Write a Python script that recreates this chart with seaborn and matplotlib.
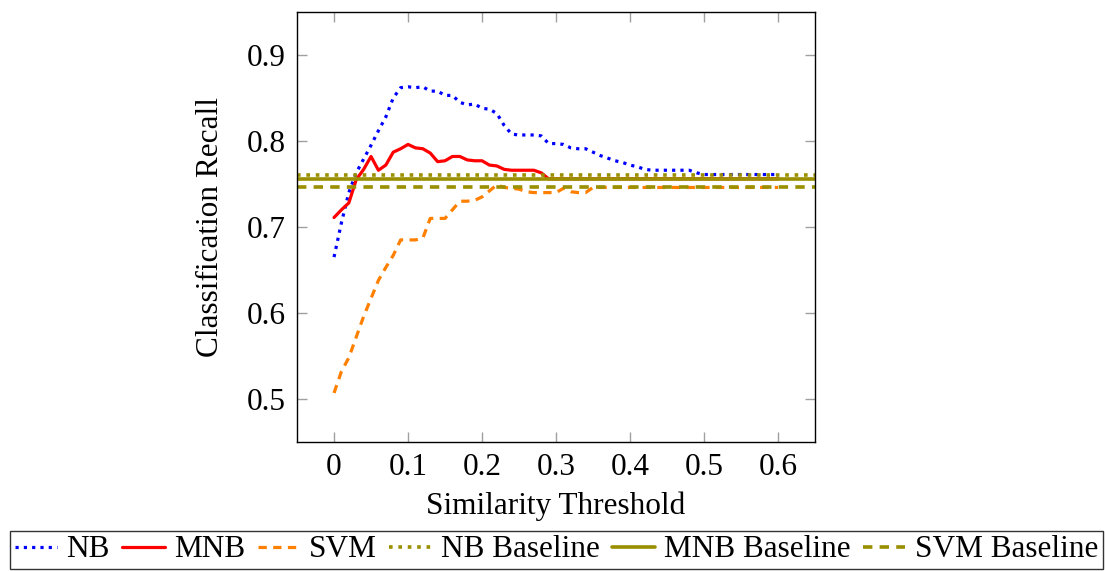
import numpy as np
import pandas as pd
import matplotlib
matplotlib.use("Agg")
import matplotlib.pyplot as plt
import seaborn as sns

# Similarity thresholds 0.00 .. 0.60 in steps of 0.01
thresholds = [round(0.01 * i, 2) for i in range(61)]

nb_recall = [
    0.665, 0.705, 0.740, 0.763, 0.779, 0.795, 0.812, 0.828, 0.850, 0.862,
    0.863, 0.862, 0.863, 0.858, 0.858, 0.853, 0.853, 0.845, 0.842, 0.843,
    0.838, 0.837, 0.832, 0.818, 0.808, 0.807, 0.807, 0.807, 0.806, 0.797,
    0.797, 0.796, 0.792, 0.791, 0.791, 0.787, 0.783, 0.780, 0.777, 0.775,
    0.772, 0.770, 0.767, 0.766, 0.766, 0.766, 0.766, 0.766, 0.766, 0.763,
    0.761, 0.761, 0.761, 0.761, 0.761, 0.761, 0.761, 0.761, 0.761, 0.761,
    0.761,
]

mnb_recall = [
    0.711, 0.720, 0.728, 0.755, 0.767, 0.782, 0.766, 0.772, 0.787, 0.791,
    0.796, 0.792, 0.791, 0.786, 0.776, 0.777, 0.782, 0.782, 0.778, 0.777,
    0.777, 0.772, 0.771, 0.767, 0.766, 0.766, 0.766, 0.766, 0.763, 0.756,
    0.756, 0.756, 0.756, 0.756, 0.756, 0.756, 0.756, 0.756, 0.756, 0.756,
    0.756, 0.756, 0.756, 0.756, 0.756, 0.756, 0.756, 0.756, 0.756, 0.756,
    0.756, 0.756, 0.756, 0.756, 0.756, 0.756, 0.756, 0.756, 0.756, 0.756,
    0.756,
]

svm_recall = [
    0.507, 0.532, 0.548, 0.572, 0.596, 0.617, 0.638, 0.653, 0.667, 0.685,
    0.685, 0.685, 0.687, 0.710, 0.710, 0.710, 0.720, 0.730, 0.730, 0.731,
    0.735, 0.742, 0.749, 0.746, 0.745, 0.744, 0.741, 0.740, 0.740, 0.740,
    0.740, 0.745, 0.741, 0.740, 0.740, 0.746, 0.746, 0.746, 0.746, 0.746,
    0.746, 0.746, 0.746, 0.746, 0.746, 0.746, 0.746, 0.746, 0.746, 0.746,
    0.746, 0.746, 0.746, 0.746, 0.746, 0.746, 0.746, 0.746, 0.746, 0.746,
    0.746,
]

baseline_names = ["NB Baseline", "MNB Baseline", "SVM Baseline"]
baseline_values = [0.761, 0.756, 0.746]

x_ticks = [0, 0.1, 0.2, 0.3, 0.4, 0.5, 0.6]
y_ticks = [0.5, 0.6, 0.7, 0.8, 0.9]

sns.set_theme(style="white", rc={"text.color": "black",
                                 "axes.labelcolor": "black",
                                 "xtick.color": "black",
                                 "ytick.color": "black"})
plt.rcParams["font.family"] = ["Liberation Serif", "DejaVu Serif"]

fig = plt.figure(figsize=(11.05, 5.71), dpi=100)
ax = fig.add_axes([0.2688, 0.2259, 0.4688, 0.7531])

df = pd.DataFrame({
    "threshold": thresholds * 3,
    "recall": nb_recall + mnb_recall + svm_recall,
    "model": ["NB"] * 61 + ["MNB"] * 61 + ["SVM"] * 61,
})

blue = "#0000FF"
red = "#FF0000"
orange = "#FF8000"
olive = "#998F00"
lw = 2.3
fs = 22.5

dotted = (0, (1.0, 1.6))
dashed = (0, (2.6, 2.0))

sns.lineplot(data=df[df.model == "NB"], x="threshold", y="recall", ax=ax,
             color=blue, lw=lw, linestyle=dotted,
             dash_capstyle="butt", label="NB", legend=False)
sns.lineplot(data=df[df.model == "MNB"], x="threshold", y="recall", ax=ax,
             color=red, lw=lw, label="MNB", legend=False)
sns.lineplot(data=df[df.model == "SVM"], x="threshold", y="recall", ax=ax,
             color=orange, lw=lw, linestyle=dashed,
             label="SVM", legend=False)

base_styles = [dotted, "-", dashed]
for name, val, ls in zip(baseline_names, baseline_values, base_styles):
    ax.axhline(val, color=olive, lw=lw + 0.3, linestyle=ls,
               dash_capstyle="butt", label=name)

ax.set_xlim(-0.05, 0.65)
ax.set_ylim(0.45, 0.95)
ax.set_xticks(x_ticks)
ax.set_xticklabels(["0", "0.1", "0.2", "0.3", "0.4", "0.5", "0.6"])
ax.set_yticks(y_ticks)
ax.set_yticklabels(["0.5", "0.6", "0.7", "0.8", "0.9"])
ax.tick_params(direction="in", length=7, width=1.0, color="#a0a0a0",
               labelsize=fs, labelcolor="black", top=True, right=True,
               left=True, bottom=True, pad=8)
for side in ax.spines.values():
    side.set_color("black")
    side.set_linewidth(1.0)

ax.set_xlabel("Similarity Threshold", fontsize=fs, labelpad=7, color="black")
ax.set_ylabel("Classification Recall", fontsize=fs, labelpad=16, color="black")

handles, labels = ax.get_legend_handles_labels()
leg = fig.legend(handles, labels, loc="center", ncol=6,
                 bbox_to_anchor=(0.5036, 0.0368), fontsize=fs,
                 frameon=True, fancybox=False, edgecolor="black",
                 handlelength=1.35, handletextpad=0.3, columnspacing=0.4,
                 borderpad=0.15, borderaxespad=0.0, labelcolor="black")
leg.get_frame().set_linewidth(1.0)

fig.savefig("out.png", dpi=100, facecolor="white")
